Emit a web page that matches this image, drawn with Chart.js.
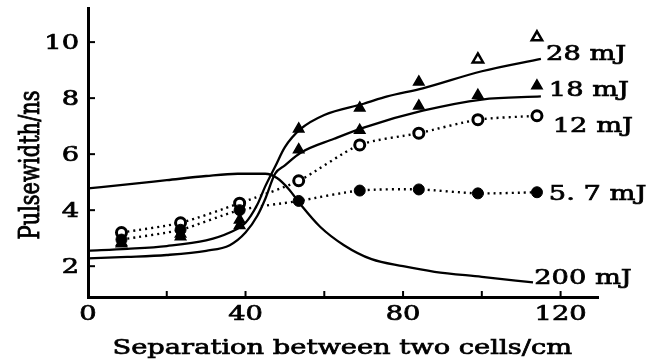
<!DOCTYPE html>
<html>
<head>
<meta charset="utf-8">
<script src="https://cdn.jsdelivr.net/npm/chart.js@4/dist/chart.umd.min.js"></script>
<style>
  html, body { margin: 0; padding: 0; background: #fff; }
  #wrap { width: 667px; height: 361px; }
</style>
</head>
<body>
<div id="wrap"><canvas id="pulseChart" width="667" height="361"></canvas></div>
<script>
// === Data ===
const markerX = [8.5, 23.5, 38.5, 53.5, 69, 84, 99, 114];
const mj28 = [2.85, 3.15, 3.65, 6.9, 7.65, 8.58, 9.38, 10.17];
const mj18 = [2.8, 3.05, 3.45, 6.16, 6.85, 7.72, 8.1, 8.44];
const mj12 = [3.2, 3.55, 4.25, 5.05, 6.33, 6.75, 7.23, 7.37];
const mj57 = [2.95, 3.3, 4.0, 4.33, 4.7, 4.74, 4.6, 4.64];
const mj28Open = [false, false, false, false, false, false, true, true];

// fitted curves (solid lines)
const fit28X = [0, 10, 20, 30, 36, 40, 43, 45, 47.5, 50, 54, 60, 70, 76, 85, 100, 115];
const fit28Y = [2.55, 2.62, 2.72, 2.92, 3.2, 3.55, 4.2, 4.85, 5.55, 6.25, 6.9, 7.4, 7.8, 8.06, 8.35, 8.96, 9.4];
const fit18X = [0, 10, 20, 30, 36, 40, 43, 45, 47.5, 50, 54, 62.5, 70, 85, 100, 115];
const fit18Y = [2.28, 2.33, 2.4, 2.55, 2.75, 3.2, 3.8, 4.4, 5.3, 5.6, 6.05, 6.55, 6.95, 7.55, 7.95, 8.06];
const fit200X = [0, 10, 20, 30, 38, 45, 48, 51, 54, 59, 65, 72, 80, 88, 100, 113];
const fit200Y = [4.78, 4.92, 5.07, 5.22, 5.3, 5.3, 5.15, 4.75, 4.2, 3.4, 2.75, 2.25, 2.0, 1.8, 1.62, 1.42];

// axes
const yTicks = [2, 4, 6, 8, 10];
const xTicks = [20, 40, 60, 80, 100, 120];
const xLabels = [0, 40, 80, 120];
const xTitle = "Separation between two cells/cm";
const yTitle = "Pulsewidth/ns";

// curve labels at the right end
const curveNames = ["28 mJ", "18 mJ", "12 mJ", "5. 7 mJ", "200 mJ"];
const curveNameX = [116.3, 117, 118, 117, 113.3];
const curveNameY = [9.55, 8.27, 6.97, 4.55, 1.57];

function pts(xs, ys) {
  return xs.map((x, i) => ({ x, y: ys[i] }));
}

const FONT = '21px "DejaVu Serif"';
const STRETCH = 1.3; // the scan is wider than tall

// text is a bit heavier in the scan, so fill + thin stroke
function inkText(ctx, text) {
  ctx.fillText(text, 0, 0);
  ctx.strokeText(text, 0, 0);
}

function stretchedText(ctx, text, x, y, align) {
  ctx.save();
  ctx.translate(x, y);
  ctx.scale(STRETCH, 1);
  ctx.textAlign = align;
  inkText(ctx, text);
  ctx.restore();
}

// === Paper style axes: inward ticks, labels, titles ===
const paperAxes = {
  id: "paperAxes",
  afterDraw(chart) {
    const { ctx, chartArea, scales } = chart;
    const xs = scales.x, ys = scales.y;
    ctx.save();
    ctx.strokeStyle = "#000";
    ctx.fillStyle = "#000";
    ctx.lineWidth = 2;
    yTicks.forEach(v => {
      const py = ys.getPixelForValue(v);
      ctx.beginPath();
      ctx.moveTo(chartArea.left, py);
      ctx.lineTo(chartArea.left + 7, py);
      ctx.stroke();
    });
    xTicks.forEach(v => {
      const px = xs.getPixelForValue(v);
      ctx.beginPath();
      ctx.moveTo(px, chartArea.bottom);
      ctx.lineTo(px, chartArea.bottom - 6);
      ctx.stroke();
    });

    ctx.font = FONT;
    ctx.lineWidth = 0.7;
    ctx.textBaseline = "middle";
    yTicks.forEach(v => {
      stretchedText(ctx, String(v), chartArea.left - 9, ys.getPixelForValue(v) + 1, "right");
    });
    xLabels.forEach(v => {
      stretchedText(ctx, String(v), xs.getPixelForValue(v), chartArea.bottom + 18, "center");
    });
    stretchedText(ctx, xTitle, (xs.getPixelForValue(0) + xs.getPixelForValue(120)) / 2 + 18, 349, "center");

    // rotated y title
    ctx.save();
    ctx.translate(32, 165);
    ctx.scale(STRETCH, 1);
    ctx.rotate(-Math.PI / 2);
    ctx.textAlign = "center";
    inkText(ctx, yTitle);
    ctx.restore();

    curveNames.forEach((name, i) => {
      stretchedText(ctx, name, xs.getPixelForValue(curveNameX[i]), ys.getPixelForValue(curveNameY[i]), "left");
    });
    ctx.restore();
  }
};

// === Datasets ===
const solid = { showLine: true, pointRadius: 0, borderColor: "#000", borderWidth: 2.3, cubicInterpolationMode: "monotone", fill: false };
const dotted = { showLine: true, borderColor: "#000", borderWidth: 2.4, borderDash: [2, 4], tension: 0.25, fill: false };

const datasets = [
  { ...solid, label: "fit 28 mJ", data: pts(fit28X, fit28Y) },
  { ...solid, label: "fit 18 mJ", data: pts(fit18X, fit18Y) },
  { ...solid, label: "fit 200 mJ", data: pts(fit200X, fit200Y) },
  { ...dotted, label: "5.7 mJ", data: pts(markerX, mj57),
    pointStyle: "circle", pointRadius: 5.5, backgroundColor: "#000", pointBorderColor: "#000", pointBorderWidth: 1 },
  { ...dotted, label: "12 mJ", data: pts(markerX, mj12),
    pointStyle: "circle", pointRadius: 5, backgroundColor: "#fff", pointBackgroundColor: "#fff", pointBorderColor: "#000", pointBorderWidth: 3 },
  { label: "18 mJ", data: pts(markerX, mj18), showLine: false,
    pointStyle: "triangle", pointRadius: 6, pointBackgroundColor: "#000", pointBorderColor: "#000", pointBorderWidth: 1.5 },
  { label: "28 mJ", data: pts(markerX, mj28), showLine: false,
    pointStyle: "triangle", pointRadius: 6,
    pointBackgroundColor: mj28Open.map(o => o ? "#fff" : "#000"),
    pointBorderColor: "#000", pointBorderWidth: mj28Open.map(o => o ? 2.5 : 1.5) }
];

new Chart(document.getElementById("pulseChart"), {
  type: "scatter",
  data: { datasets },
  options: {
    responsive: false,
    animation: false,
    devicePixelRatio: 1,
    layout: { padding: { left: 80, right: 69, top: 8, bottom: 56 } },
    plugins: { legend: { display: false }, tooltip: { enabled: false } },
    scales: {
      x: {
        type: "linear", min: 0, max: 129.5,
        grid: { display: false },
        ticks: { display: false },
        border: { display: true, color: "#000", width: 3 }
      },
      y: {
        type: "linear", min: 0.9, max: 11.2,
        grid: { display: false },
        ticks: { display: false },
        border: { display: true, color: "#000", width: 3 }
      }
    }
  },
  plugins: [paperAxes]
});
</script>
</body>
</html>
